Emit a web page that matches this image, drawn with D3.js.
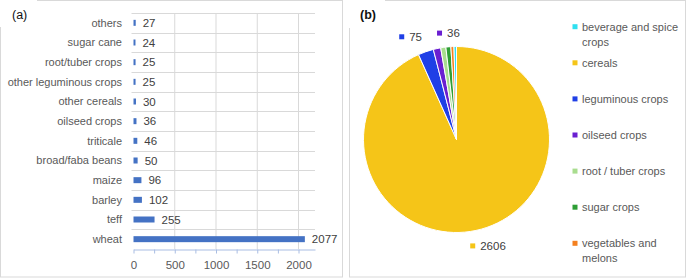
<!DOCTYPE html>
<html>
<head>
<meta charset="utf-8">
<script src="https://cdn.jsdelivr.net/npm/d3@7"></script>
<style>
  html, body { margin: 0; padding: 0; background: #fff; }
  svg { display: block; font-family: "Liberation Sans", Arial, sans-serif; }
  .lbl { fill: #595959; font-size: 11px; }
  .val { fill: #404040; font-size: 11.5px; }
</style>
</head>
<body>
<svg id="chart" width="690" height="279"></svg>
<script>
// (a) crops, listed top to bottom
const cropNames = ['others', 'sugar cane', 'root/tuber crops', 'other leguminous crops',
    'other cereals', 'oilseed crops', 'triticale', 'broad/faba beans',
    'maize', 'barley', 'teff', 'wheat'];
const cropValues = [27, 24, 25, 25, 30, 36, 46, 50, 96, 102, 255, 2077];
const xTicks = [0, 250, 500, 750, 1000, 1250, 1500, 1750, 2000];

// (b) groups in pie order (clockwise from 12 o'clock)
const groupNames = ['cereals', 'leguminous crops', 'oilseed crops', 'root / tuber crops',
    'sugar crops', 'vegetables and melons', 'beverage and spice crops'];
const groupValues = [2606, 75, 36, 25, 24, 15, 12];
const groupColors = ['#f5c518', '#1f3fe6', '#6a1fd1', '#a9dd8f', '#2e9e35', '#f4801f', '#2fe0f0'];
// legend order as printed
const legendOrder = ['beverage and spice crops', 'cereals', 'leguminous crops', 'oilseed crops',
    'root / tuber crops', 'sugar crops', 'vegetables and melons'];
const legendLines = {
    'beverage and spice crops': ['beverage and spice', 'crops'],
    'vegetables and melons': ['vegetables and', 'melons']
};

const svg = d3.select('#chart');
const border = '#d9d9d9';

// panel frames
svg.append('rect').attr('x', 0.5).attr('y', 0.5).attr('width', 342).attr('height', 276.5)
    .attr('fill', 'none').attr('stroke', border);
svg.append('rect').attr('x', 349.5).attr('y', 0.5).attr('width', 336).attr('height', 276.5)
    .attr('fill', 'none').attr('stroke', border);
svg.append('rect').attr('x', 0).attr('y', 0).attr('width', 37).attr('height', 27).attr('fill', '#fff');
svg.append('rect').attr('x', 344).attr('y', 0).attr('width', 41).attr('height', 28).attr('fill', '#fff');

svg.append('text').attr('x', 12).attr('y', 19).attr('font-size', 12.5).attr('fill', '#111').text('(a)');
svg.append('text').attr('x', 360).attr('y', 19).attr('font-size', 12.5).attr('font-weight', 'bold')
    .attr('fill', '#111').text('(b)');

// ---------- (a) bar chart ----------
const x = d3.scaleLinear().domain([0, 2200]).range([133.5, 315]);
const y = d3.scaleBand().domain(cropNames).range([13, 249]);
const ga = svg.append('g');

// vertical gridlines
ga.selectAll('line.vg').data([500, 1000, 1500, 2000]).join('line')
    .attr('x1', d => x(d)).attr('x2', d => x(d))
    .attr('y1', 13).attr('y2', 249)
    .attr('stroke', border);
// band separators
ga.selectAll('line.hg').data(cropNames).join('line')
    .attr('x1', 131.5).attr('x2', 315)
    .attr('y1', d => Math.round(y(d)) + 0.5).attr('y2', d => Math.round(y(d)) + 0.5)
    .attr('stroke', border);

const barH = 6;
ga.selectAll('rect.bar').data(cropNames).join('rect')
    .attr('x', x(0))
    .attr('y', d => y(d) + y.bandwidth() / 2 - barH / 2)
    .attr('width', (d, i) => x(cropValues[i]) - x(0))
    .attr('height', barH)
    .attr('fill', '#4472c4');

ga.selectAll('text.val').data(cropNames).join('text')
    .attr('class', 'val')
    .attr('x', (d, i) => x(cropValues[i]) + 7)
    .attr('y', d => y(d) + y.bandwidth() / 2)
    .attr('dy', '0.35em')
    .text((d, i) => cropValues[i]);

ga.selectAll('text.cat').data(cropNames).join('text')
    .attr('class', 'lbl')
    .attr('x', 122)
    .attr('y', d => y(d) + y.bandwidth() / 2)
    .attr('dy', '0.35em')
    .attr('text-anchor', 'end')
    .text(d => d);

const xAxis = ga.append('g')
    .attr('transform', 'translate(0,249.5)')
    .call(d3.axisBottom(x).tickValues(xTicks)
        .tickFormat(d => d % 500 === 0 ? d : '')
        .tickSize(4).tickPadding(7).tickSizeOuter(0));
xAxis.select('.domain').attr('stroke', '#a9bde3');
xAxis.selectAll('.tick line').attr('stroke', '#a9bde3');
xAxis.selectAll('.tick text').attr('fill', '#595959').attr('font-size', 11.5)
    .attr('font-family', '"Liberation Sans", Arial, sans-serif');

// ---------- (b) pie ----------
const cx = 456.5, cy = 139.5, r = 93;
const gb = svg.append('g').attr('transform', `translate(${cx},${cy})`);
const pie = d3.pie().sort(null).value(d => d)(groupValues);
const arc = d3.arc().innerRadius(0).outerRadius(r);

gb.selectAll('path').data(pie).join('path')
    .attr('d', arc)
    .attr('fill', (d, i) => groupColors[i])
    .attr('stroke', '#fff')
    .attr('stroke-width', 1);

// data labels for the larger slices (marker square + value)
const labelArc = d3.arc().innerRadius(r * 1.17).outerRadius(r * 1.17);
const labels = pie.map((d, i) => {
    const c = labelArc.centroid(d);
    const t = String(groupValues[i]);
    return { left: c[0] - 9, y: c[1], i, text: t, w: 11 + t.length * 6.4 };
}).filter(l => groupValues[l.i] >= 30);
// push apart overlapping labels horizontally
for (let k = 0; k < 5; k++) {
    labels.sort((a, b) => a.left - b.left);
    for (let j = 1; j < labels.length; j++) {
        const a = labels[j - 1], b = labels[j];
        if (Math.abs(a.y - b.y) < 14) {
            const need = a.left + a.w + 14 - b.left;
            if (need > 0) { a.left -= need / 2; b.left += need / 2; }
        }
    }
}
const lab = gb.selectAll('g.dl').data(labels).join('g')
    .attr('transform', d => `translate(${d.left},${d.y})`);
lab.append('rect').attr('x', 0).attr('y', -2.5).attr('width', 5).attr('height', 5)
    .attr('fill', d => groupColors[d.i]);
lab.append('text').attr('class', 'val').attr('x', 10).attr('dy', '0.35em').text(d => d.text);

// legend
const ly = d3.scalePoint().domain(legendOrder).range([26.7, 243.3]);
const lg = svg.append('g').selectAll('g').data(legendOrder).join('g')
    .attr('transform', d => `translate(575,${ly(d)})`);
lg.append('rect').attr('x', -2.5).attr('y', -2.5).attr('width', 5).attr('height', 5)
    .attr('fill', d => groupColors[groupNames.indexOf(d)]);
lg.each(function (d) {
    const lines = legendLines[d] || [d];
    d3.select(this).selectAll('text').data(lines).join('text')
        .attr('class', 'lbl')
        .attr('x', 7)
        .attr('y', (t, j) => j * 15)
        .attr('dy', '0.35em')
        .attr('font-size', 12)
        .text(t => t);
});
</script>
</body>
</html>
